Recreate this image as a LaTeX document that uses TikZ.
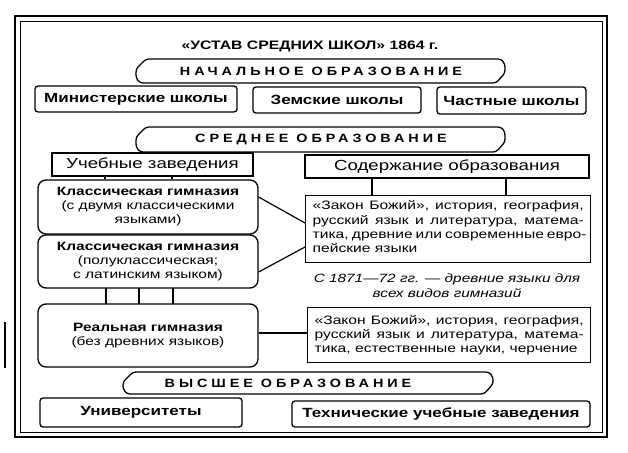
\documentclass[tikz,border=0pt]{standalone}
\usepackage{fontspec}
\setmainfont{Liberation Sans}[FakeStretch=1.28]
\newfontfamily\spacedfont{Liberation Sans}[FakeStretch=1.2,LetterSpace=33]
\begin{document}
\begin{tikzpicture}[x=1pt,y=-1pt,
  box/.style={draw,line width=1.3pt,rounded corners=3pt,inner sep=0pt},
  sqbox/.style={draw,line width=1.3pt,inner sep=0pt},
  gymbox/.style={draw,line width=1.3pt,rounded corners=8pt,inner sep=0pt},
  conn/.style={line width=1.6pt},
  thinconn/.style={line width=1.2pt},
  bannerline/.style={line width=1.3pt,rounded corners=3pt},
  btxt/.style={font=\fontsize{13.3}{16}\selectfont\bfseries},
  rtxt/.style={font=\fontsize{14.6}{17}\selectfont},
  gtxt/.style={font=\fontsize{12.1}{14}\selectfont,align=center},
  ctxt/.style={font=\fontsize{12.2}{14.4}\selectfont},
  btitle/.style={font=\spacedfont\fontsize{12}{14}\selectfont\bfseries}
]
\useasboundingbox (0,0) rectangle (628,452);
% outer double frame
\draw[line width=1.8pt] (15,16) rectangle (607,437);
\draw[line width=0.8pt] (20,21) rectangle (602,432);
% stray scan mark
\draw[line width=2.5pt] (5,322) -- (5,368);

\node[font=\fontsize{12.3}{15}\selectfont\bfseries] (title) at (310,46) {«УСТАВ СРЕДНИХ ШКОЛ» 1864 г.};

% banners
\newcommand{\bannerpath}[4]{% L R T B
  \draw[bannerline] ({#1+10},#3) -- ({#2-4},#3) -- (#2,{#3+5}) -- (#2,{#4-10}) -- ({#2-9},#4)
    -- ({#1+4},#4) -- (#1,{#4-5}) -- (#1,{#3+10}) -- cycle;}
\bannerpath{136}{505}{59}{83}
\node[btitle] (b1) at (321,71) {НАЧАЛЬНОЕ ОБРАЗОВАНИЕ};
\bannerpath{136}{505}{127}{152}
\node[btitle] (b2) at (321,139.5) {СРЕДНЕЕ ОБРАЗОВАНИЕ};
\bannerpath{123}{493}{372}{394}
\node[btitle] (b3) at (288,383) {ВЫСШЕЕ ОБРАЗОВАНИЕ};

% primary schools
\node[box,minimum width=202pt,minimum height=26pt,btxt] (min) at (136,99) {Министерские школы};
\node[box,minimum width=168pt,minimum height=26pt,btxt] (zem) at (337,100) {Земские школы};
\node[box,minimum width=149pt,minimum height=27pt,btxt] (chast) at (511.5,100.5) {Частные школы};

% secondary headers
\node[sqbox,minimum width=201pt,minimum height=23pt,rtxt] (ucheb) at (152.5,164.5) {Учебные заведения};
\node[sqbox,minimum width=284pt,minimum height=23pt,rtxt] (soder) at (447,166.5) {Содержание образования};

% gymnasia
\node[gymbox,minimum width=220pt,minimum height=54pt,gtxt] (g1) at (148,207)
  {\textbf{Классическая гимназия}\\(с двумя классическими\\языками)};
\node[gymbox,minimum width=220pt,minimum height=53pt,gtxt] (g2) at (148,261.5)
  {\textbf{Классическая гимназия}\\(полуклассическая;\\с латинским языком)};
\node[gymbox,minimum width=220pt,minimum height=63pt,gtxt] (real) at (148,335.5)
  {\textbf{Реальная гимназия}\\(без древних языков)};

% content boxes
\node[sqbox,inner xsep=7pt,inner ysep=5pt,ctxt,anchor=north west] (c1) at (305,195)
  {\parbox[t][57pt][t]{271pt}{%
   \makebox[271pt][s]{«Закон Божий», история, география,}\\
   \makebox[271pt][s]{русский язык и литература, матема-}\\
   \makebox[271pt][s]{тика, древние или современные евро-}\\
   пейские языки}};
\node[font=\fontsize{12}{15}\selectfont\itshape,align=center] (note) at (447,286)
  {С 1871—72 гг. — древние языки для\\всех видов гимназий};
\node[sqbox,inner xsep=7pt,inner ysep=5pt,ctxt,anchor=north west] (c2) at (307,307)
  {\parbox[t][45pt][c]{269pt}{%
   \makebox[269pt][s]{«Закон Божий», история, география,}\\
   \makebox[269pt][s]{русский язык и литература, матема-}\\
   тика, естественные науки, черчение}};

% higher
\node[box,minimum width=202pt,minimum height=29pt,btxt] (univ) at (141,412.5) {Университеты};
\node[box,minimum width=298pt,minimum height=26pt,btxt] (tech) at (441,414) {Технические учебные заведения};

% connectors
\coordinate (u1) at (105,176); \coordinate (u2) at (172,176);
\draw[thinconn] (u1) -- (u1 |- g1.north);
\draw[thinconn] (u2) -- (u2 |- g1.north);
\foreach \xx in {106,139,173} {\draw[conn] (\xx,288) -- (\xx,304);}
\draw[conn] (372,178) -- (372,195);
\draw[conn] (506,178) -- (506,195);
\draw[thinconn] (g1.east |- 0,197) -- (305,223);
\draw[thinconn] (g2.east |- 0,272) -- (305,247);
\draw[conn] (real.east |- 0,333) -- (c2.west |- 0,333);
\end{tikzpicture}
\end{document}
